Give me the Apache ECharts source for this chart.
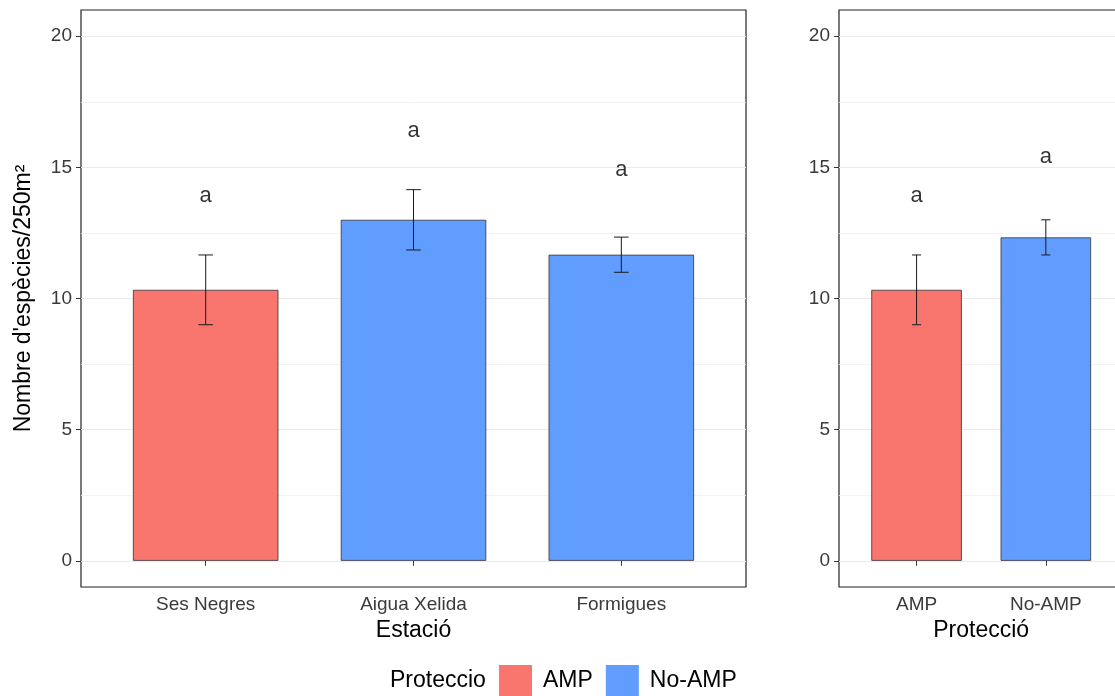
<!DOCTYPE html>
<html>
    <head>
        <meta charset="utf-8">
        <script src="https://cdn.jsdelivr.net/npm/echarts@6/dist/echarts.min.js"></script>
    </head>
    <body>
        <style>
            html, body, #main {
                width: 100%;
                height: 100%;
                margin: 0;
            }
        </style>
        <div id="main"></div>
        <script>

            // panell esquerre: per estació
            var estacions = ['Ses Negres', 'Aigua Xelida', 'Formigues'];
            var proteccioEstacio = ['AMP', 'No-AMP', 'No-AMP'];
            var mitjanaEstacio = [10.33, 13.0, 11.67];
            var errorEstacio = [1.33, 1.15, 0.67];
            var lletraEstacio = ['a', 'a', 'a'];
            var lletraYEstacio = [13.9, 16.4, 14.9];

            // panell dret: per protecció
            var proteccions = ['AMP', 'No-AMP'];
            var mitjanaProteccio = [10.33, 12.33];
            var errorProteccio = [1.33, 0.67];
            var lletraProteccio = ['a', 'a'];
            var lletraYProteccio = [13.9, 15.4];

            var yTicks = [0, 5, 10, 15, 20];

            var colors = { 'AMP': '#F8766D', 'No-AMP': '#619CFF' };
            var font = 'Liberation Sans';

            function barData(means, groups, which) {
                var out = [];
                for (var i = 0; i < means.length; i++) {
                    if (groups[i] === which) out.push([i + 1, means[i]]);
                }
                return out;
            }

            function errData(means, errs) {
                return means.map(function (m, i) {
                    return [i + 1, m - errs[i], m + errs[i]];
                });
            }

            function letterData(ys, letters) {
                return ys.map(function (y, i) {
                    return { value: [i + 1, y], label: { formatter: letters[i] } };
                });
            }

            function renderErrorBar(params, api) {
                var x = api.value(0);
                var top = api.coord([x, api.value(2)]);
                var bot = api.coord([x, api.value(1)]);
                var half = api.size([0.07, 0])[0] / 2;
                var st = { stroke: '#1a1a1a', lineWidth: 1 };
                return {
                    type: 'group',
                    children: [
                        { type: 'line', shape: { x1: top[0], y1: top[1], x2: bot[0], y2: bot[1] }, style: st },
                        { type: 'line', shape: { x1: top[0] - half, y1: top[1], x2: top[0] + half, y2: top[1] }, style: st },
                        { type: 'line', shape: { x1: bot[0] - half, y1: bot[1], x2: bot[0] + half, y2: bot[1] }, style: st }
                    ]
                };
            }

            function frameAxis(idx) {
                return { gridIndex: idx, type: 'value', show: false, min: 0, max: 1 };
            }

            function catAxis(idx, names, title) {
                var ticks = names.map(function (n, i) { return i + 1; });
                return {
                    gridIndex: idx,
                    type: 'value',
                    min: 0.4,
                    max: names.length + 0.6,
                    offset: 26.2,
                    axisLine: { show: false },
                    splitLine: { show: false },
                    axisTick: { show: true, length: 5, customValues: ticks, lineStyle: { color: '#333' } },
                    axisLabel: {
                        customValues: ticks,
                        margin: 8,
                        fontSize: 19,
                        color: '#3a3a3a',
                        formatter: function (v) { return names[Math.round(v) - 1]; }
                    },
                    name: title,
                    nameLocation: 'middle',
                    nameGap: 31,
                    nameTextStyle: { fontSize: 23, color: '#000' }
                };
            }

            function valAxis(idx, title) {
                return {
                    gridIndex: idx,
                    type: 'value',
                    min: yTicks[0],
                    max: yTicks[yTicks.length - 1],
                    interval: 5,
                    axisLine: { show: false },
                    axisTick: { show: true, length: 5, lineStyle: { color: '#333' } },
                    axisLabel: { margin: 9, fontSize: 19, color: '#3a3a3a' },
                    splitLine: { lineStyle: { color: '#ebebeb', width: 1 } },
                    minorTick: { show: false, splitNumber: 2 },
                    minorSplitLine: { show: true, lineStyle: { color: '#f0f0f0', width: 0.8 } },
                    name: title,
                    nameLocation: 'middle',
                    nameGap: 46,
                    nameTextStyle: { fontSize: 23, color: '#000' }
                };
            }

            var frameStyle = {
                show: true, borderColor: '#222', borderWidth: 1.2,
                backgroundColor: 'transparent', outerBoundsMode: 'none'
            };

            var chart = echarts.init(document.getElementById('main'));

            chart.setOption({
                animation: false,
                textStyle: { fontFamily: font },
                title: {
                    text: 'Proteccio',
                    left: 390,
                    top: 669,
                    padding: 0,
                    textStyle: { fontSize: 23, fontWeight: 'normal', color: '#000', fontFamily: font }
                },
                legend: {
                    data: proteccions,
                    left: 499,
                    top: 665,
                    padding: 0,
                    icon: 'rect',
                    itemWidth: 33,
                    itemHeight: 31,
                    itemGap: 13,
                    itemStyle: { borderWidth: 0 },
                    textStyle: { fontSize: 23, color: '#000', padding: [0, 0, 0, 6] }
                },
                grid: [
                    Object.assign({ left: 81, top: 10, width: 665, height: 577 }, frameStyle),
                    { left: 81, top: 36.2, width: 665, height: 524.6, show: false, outerBoundsMode: 'none' },
                    Object.assign({ left: 839, top: 10, width: 284.4, height: 577 }, frameStyle),
                    { left: 839, top: 36.2, width: 284.4, height: 524.6, show: false, outerBoundsMode: 'none' }
                ],
                xAxis: [
                    frameAxis(0),
                    catAxis(1, estacions, 'Estació'),
                    frameAxis(2),
                    catAxis(3, proteccions, 'Protecció')
                ],
                yAxis: [
                    frameAxis(0),
                    valAxis(1, "Nombre d'espècies/250m²"),
                    frameAxis(2),
                    valAxis(3, '')
                ],
                series: [
                    {
                        name: 'AMP', type: 'bar', xAxisIndex: 1, yAxisIndex: 1,
                        barWidth: '70%', barGap: '-100%',
                        itemStyle: { color: colors['AMP'], borderColor: '#333', borderWidth: 0.8 },
                        data: barData(mitjanaEstacio, proteccioEstacio, 'AMP')
                    },
                    {
                        name: 'No-AMP', type: 'bar', xAxisIndex: 1, yAxisIndex: 1,
                        barWidth: '70%', barGap: '-100%',
                        itemStyle: { color: colors['No-AMP'], borderColor: '#333', borderWidth: 0.8 },
                        data: barData(mitjanaEstacio, proteccioEstacio, 'No-AMP')
                    },
                    {
                        type: 'custom', xAxisIndex: 1, yAxisIndex: 1, z: 3,
                        renderItem: renderErrorBar,
                        data: errData(mitjanaEstacio, errorEstacio)
                    },
                    {
                        type: 'scatter', xAxisIndex: 1, yAxisIndex: 1, symbolSize: 0,
                        label: { show: true, position: 'inside', fontSize: 22, color: '#000' },
                        data: letterData(lletraYEstacio, lletraEstacio)
                    },
                    {
                        name: 'AMP', type: 'bar', xAxisIndex: 3, yAxisIndex: 3,
                        barWidth: '70%', barGap: '-100%',
                        itemStyle: { color: colors['AMP'], borderColor: '#333', borderWidth: 0.8 },
                        data: barData(mitjanaProteccio, proteccions, 'AMP')
                    },
                    {
                        name: 'No-AMP', type: 'bar', xAxisIndex: 3, yAxisIndex: 3,
                        barWidth: '70%', barGap: '-100%',
                        itemStyle: { color: colors['No-AMP'], borderColor: '#333', borderWidth: 0.8 },
                        data: barData(mitjanaProteccio, proteccions, 'No-AMP')
                    },
                    {
                        type: 'custom', xAxisIndex: 3, yAxisIndex: 3, z: 3,
                        renderItem: renderErrorBar,
                        data: errData(mitjanaProteccio, errorProteccio)
                    },
                    {
                        type: 'scatter', xAxisIndex: 3, yAxisIndex: 3, symbolSize: 0,
                        label: { show: true, position: 'inside', fontSize: 22, color: '#000' },
                        data: letterData(lletraYProteccio, lletraProteccio)
                    }
                ]
            });

        </script>
    </body>
</html>
